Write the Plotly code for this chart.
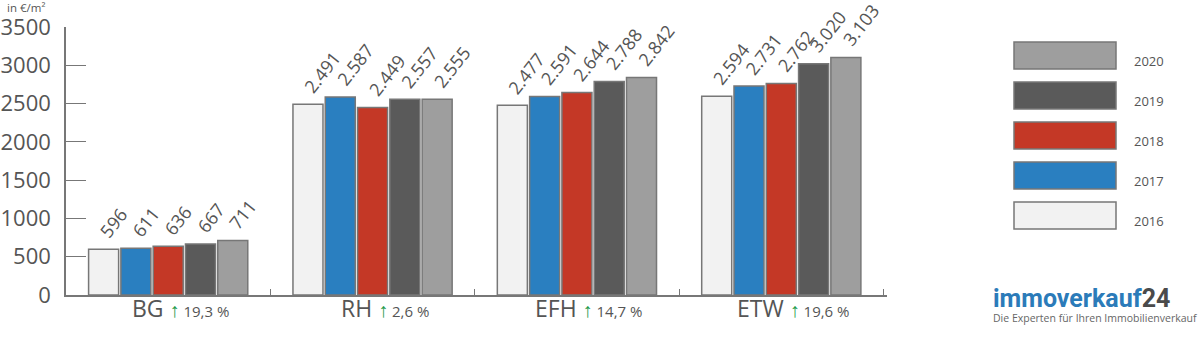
import plotly.graph_objects as go

categories = ["BG", "RH", "EFH", "ETW"]
years = ["2016", "2017", "2018", "2019", "2020"]
values = {
    "2016": [596, 2491, 2477, 2594],
    "2017": [611, 2587, 2591, 2731],
    "2018": [636, 2449, 2644, 2762],
    "2019": [667, 2557, 2788, 3020],
    "2020": [711, 2555, 2842, 3103],
}
changes = ["19,3 %", "2,6 %", "14,7 %", "19,6 %"]
colors = {"2016": "#f2f2f2", "2017": "#2a7fc0", "2018": "#c43826",
          "2019": "#5a5a5a", "2020": "#9e9e9e"}
ytickvals = [0, 500, 1000, 1500, 2000, 2500, 3000, 3500]

TXT = "#555555"
FONT = "Open Sans, Noto Sans, sans-serif"

W, H = 1200, 343
ML, MR, MT, MB = 66, 313, 27, 48
BARGAP, GROUPGAP = 0.21, 0.07


def de(v):
    return f"{v:,}".replace(",", ".")


fig = go.Figure()
for y in years:
    fig.add_trace(go.Bar(
        x=categories, y=values[y], name=y,
        marker=dict(color=colors[y], line=dict(color="#777777", width=1.5)),
        showlegend=False,
    ))

# rotated value labels, positioned relative to each bar
cat_px = (W - ML - MR) / len(categories)
slot_px = cat_px * (1 - BARGAP) / len(years)
for i, y in enumerate(years):
    for c, v in zip(categories, values[y]):
        fig.add_annotation(
            x=c, y=v, xref="x", yref="y", showarrow=False,
            xanchor="left", yanchor="bottom",
            xshift=(i - 2) * slot_px - 12, yshift=4,
            textangle=-52, text=de(v),
            font=dict(size=18, color=TXT, family=FONT),
        )

# x labels with change indicator
for c, ch in zip(categories, changes):
    fig.add_annotation(
        x=c, y=0, xref="x", yref="y", yshift=-13, xshift=12,
        yanchor="middle", xanchor="center", showarrow=False,
        text=(f"{c} <span style='font-size:20px;color:#1e9a4b'>↑</span>"
              f"<span style='font-size:15px;color:{TXT}'> {ch}</span>"),
        font=dict(family=FONT, size=23, color=TXT),
    )

# legend (custom, large swatches)
top = 42
for i, y in enumerate(reversed(years)):
    y0 = top + i * 40
    fig.add_shape(type="rect", xref="paper", yref="paper",
                  x0=(1014 - ML) / 821, x1=(1116 - ML) / 821,
                  y0=(295 - y0 - 27) / 268, y1=(295 - y0) / 268,
                  fillcolor=colors[y], line=dict(color="#777777", width=1.5))
    fig.add_annotation(xref="paper", yref="paper",
                       x=(1132 - ML) / 821, y=(295 - y0 - 19) / 268,
                       xanchor="left", yanchor="middle", showarrow=False,
                       text=y, font=dict(size=13, color=TXT, family=FONT))

# axis unit
fig.add_annotation(xref="paper", yref="paper", x=(5 - ML) / 821, y=(295 - 7) / 268,
                   xanchor="left", yanchor="middle", showarrow=False,
                   text="in €/m²", font=dict(size=11.5, color=TXT, family=FONT))

# logo
fig.add_annotation(xref="paper", yref="paper", x=(991 - ML) / 821, y=(295 - 298) / 268,
                   xanchor="left", yanchor="middle", showarrow=False,
                   text="<b><span style='color:#2b7bb9'>immoverkauf</span><span style='color:#4a4a4a'>24</span></b>",
                   font=dict(size=25, family="Roboto, sans-serif"))
fig.add_annotation(xref="paper", yref="paper", x=(991 - ML) / 821, y=(295 - 318) / 268,
                   xanchor="left", yanchor="middle", showarrow=False,
                   text="Die Experten für Ihren Immobilienverkauf",
                   font=dict(size=10.5, color="#666666", family=FONT))

fig.update_layout(
    width=W, height=H,
    margin=dict(l=ML, r=MR, t=MT, b=MB, autoexpand=False),
    paper_bgcolor="white", plot_bgcolor="white",
    barmode="group", bargap=BARGAP, bargroupgap=GROUPGAP,
    font=dict(family=FONT, color=TXT),
    xaxis=dict(showline=True, linecolor="#777777", linewidth=1.5,
               ticks="inside", tickson="boundaries", ticklen=6,
               tickcolor="#777777", showticklabels=False, showgrid=False,
               automargin=False),
    yaxis=dict(range=[0, 3500], tickvals=ytickvals, showline=True,
               linecolor="#777777", linewidth=1.5, ticks="inside",
               ticklen=20, tickcolor="#777777", showgrid=False, zeroline=False,
               automargin=False,
               tickfont=dict(size=22, color=TXT, family=FONT), ticklabelstandoff=9),
)

fig.write_html("out.html")
